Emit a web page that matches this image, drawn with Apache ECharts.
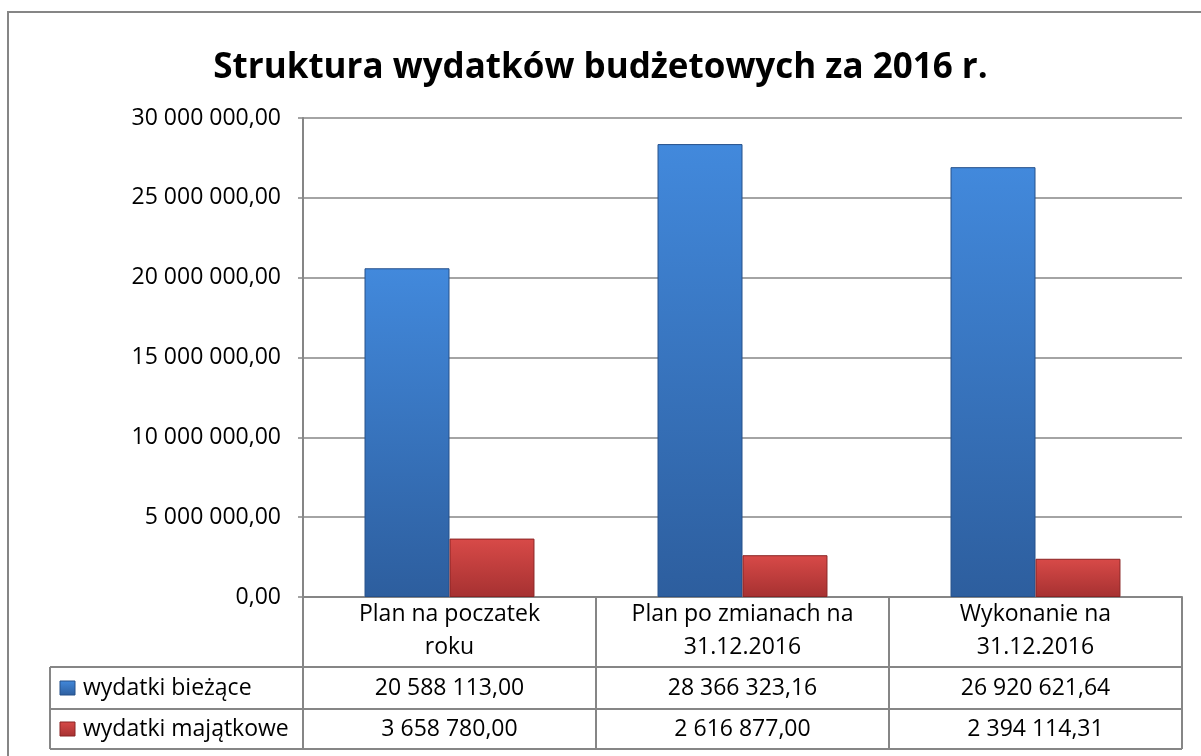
<!DOCTYPE html>
<html>
<head>
<meta charset="utf-8">
<script src="https://cdn.jsdelivr.net/npm/echarts@6/dist/echarts.min.js"></script>
<style>
    html, body { margin: 0; padding: 0; background: #fff; }
    #main { width: 1201px; height: 756px; }
</style>
</head>
<body>
<div id="main"></div>
<script>
// dane wykresu
var kategorie = ['Plan na poczatek\nroku', 'Plan po zmianach na\n31.12.2016', 'Wykonanie na\n31.12.2016'];
var nazwySerii = ['wydatki bieżące', 'wydatki majątkowe'];
var wydatkiBiezace = [20588113.00, 28366323.16, 26920621.64];
var wydatkiMajatkowe = [3658780.00, 2616877.00, 2394114.31];
var osY = { min: 0, max: 30000000, interval: 5000000 };

var font = "'Open Sans', 'Noto Sans', sans-serif";
var szary = '#868686';

// uklad
var gLeft = 303, gRight = 1182, gTop = 118, gBottom = 597;
var tabLeft = 50, rowY = [597, 667, 709, 749];

// 1234567.5 -> "1 234 567,50"
function fmt(v) {
    var s = v.toFixed(2).split('.');
    return s[0].replace(/\B(?=(\d{3})+(?!\d))/g, ' ') + ',' + s[1];
}

function gradient(top, bottom) {
    return new echarts.graphic.LinearGradient(0, 0, 0, 1, [
        { offset: 0, color: top },
        { offset: 1, color: bottom }
    ]);
}
var kolory = [
    { fill: gradient('#4289dc', '#2d5e9e'), border: '#25508a' },
    { fill: gradient('#d84a48', '#a63131'), border: '#8a2424' }
];

var myChart = echarts.init(document.getElementById('main'));

// tabela danych pod wykresem
var graphics = [{
    type: 'rect',
    shape: { x: 8, y: 12, width: 1220, height: 780 },
    style: { fill: null, stroke: szary, lineWidth: 2 },
    silent: true
}];
function linia(x1, y1, x2, y2) {
    graphics.push({
        type: 'line',
        shape: { x1: x1, y1: y1, x2: x2, y2: y2 },
        style: { stroke: szary, lineWidth: 2 },
        silent: true
    });
}
for (var r = 1; r < rowY.length; r++) {
    linia(tabLeft, rowY[r], gRight, rowY[r]);
}
linia(tabLeft, rowY[1], tabLeft, rowY[3]);
var colW = (gRight - gLeft) / kategorie.length;
for (var c = 0; c <= kategorie.length; c++) {
    linia(gLeft + c * colW, rowY[0], gLeft + c * colW, rowY[3]);
}
nazwySerii.forEach(function (nazwa, i) {
    var cy = (rowY[i + 1] + rowY[i + 2]) / 2;
    graphics.push({
        type: 'rect',
        shape: { x: 60, y: cy - 7, width: 15, height: 14 },
        style: { fill: kolory[i].fill, stroke: kolory[i].border, lineWidth: 1 },
        silent: true
    });
    graphics.push({
        type: 'text',
        x: 83,
        y: cy,
        style: {
            text: nazwa,
            font: '23px ' + font,
            fill: '#000',
            textVerticalAlign: 'middle'
        },
        silent: true
    });
});

var option = {
    animation: false,
    backgroundColor: '#fff',
    title: {
        text: 'Struktura wydatków budżetowych za 2016 r.',
        left: 'center',
        top: 46,
        textStyle: {
            fontFamily: font,
            fontSize: 35,
            fontWeight: 'bold',
            color: '#000'
        }
    },
    grid: {
        left: gLeft,
        right: 1201 - gRight,
        top: gTop,
        bottom: 756 - gBottom,
        containLabel: false
    },
    xAxis: [{
        type: 'category',
        data: kategorie,
        axisLine: { lineStyle: { color: szary, width: 2 } },
        axisTick: { show: false },
        axisLabel: {
            margin: 1,
            fontFamily: font,
            fontSize: 23,
            lineHeight: 33,
            color: '#000'
        }
    }, {
        type: 'category',
        data: wydatkiBiezace.map(fmt),
        position: 'bottom',
        offset: 70,
        axisLine: { show: false },
        axisTick: { show: false },
        axisLabel: { margin: 9, fontFamily: font, fontSize: 23, lineHeight: 24, color: '#000' }
    }, {
        type: 'category',
        data: wydatkiMajatkowe.map(fmt),
        position: 'bottom',
        offset: 112,
        axisLine: { show: false },
        axisTick: { show: false },
        axisLabel: { margin: 8, fontFamily: font, fontSize: 23, lineHeight: 24, color: '#000' }
    }],
    yAxis: {
        type: 'value',
        min: osY.min,
        max: osY.max,
        interval: osY.interval,
        axisLine: { show: true, lineStyle: { color: szary, width: 2 } },
        axisTick: { show: true, length: 5, lineStyle: { color: szary, width: 1.5 } },
        splitLine: { lineStyle: { color: szary, width: 1.5 } },
        axisLabel: {
            margin: 22,
            fontFamily: font,
            fontSize: 23,
            color: '#000',
            formatter: function (v) { return fmt(v); }
        }
    },
    series: [{
        name: nazwySerii[0],
        type: 'bar',
        data: wydatkiBiezace,
        barGap: '0%',
        barCategoryGap: '42%',
        itemStyle: { color: kolory[0].fill, borderColor: kolory[0].border, borderWidth: 1 }
    }, {
        name: nazwySerii[1],
        type: 'bar',
        data: wydatkiMajatkowe,
        itemStyle: { color: kolory[1].fill, borderColor: kolory[1].border, borderWidth: 1 }
    }],
    graphic: graphics
};

myChart.setOption(option);
</script>
</body>
</html>
